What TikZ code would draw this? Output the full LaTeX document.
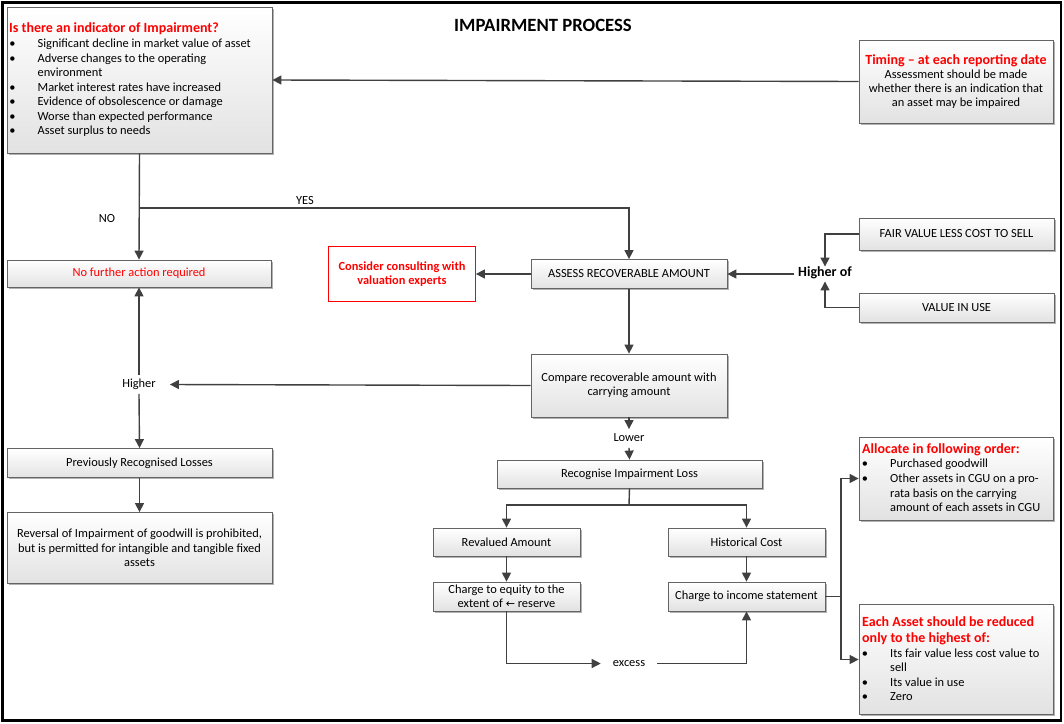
\documentclass[tikz,border=0pt]{standalone}
\usepackage{fontspec}
\setmainfont{Carlito}
\newfontfamily\djv{DejaVu Sans}
\usetikzlibrary{arrows.meta,shadows}
\definecolor{lncol}{HTML}{404040}
\definecolor{bdcol}{HTML}{646464}
\definecolor{bgcol}{HTML}{E2E2E2}
\definecolor{rdcol}{HTML}{FF0000}
\newcommand\fs{\fontsize{12.4}{14.5}\selectfont}
\newcommand\fb{\fontsize{14}{16}\selectfont\bfseries}
\begin{document}
\begin{tikzpicture}[x=1pt,y=-1pt,
  box/.style={draw=bdcol, line width=0.8pt, top color=white, bottom color=bgcol,
    drop shadow={shadow xshift=1.6pt, shadow yshift=-1.6pt, fill=black, opacity=0.3},
    inner sep=2pt, align=center, font=\fs},
  arr/.style={draw=lncol, line width=1.4pt, -{Triangle[length=9pt,width=9pt]}},
  cline/.style={draw=lncol, line width=1.4pt},
  lbl/.style={font=\fs, inner ysep=3pt, inner xsep=2pt, text height=8pt, text depth=2.5pt},
  txt/.style={font=\fs, inner sep=0pt, anchor=mid west, yshift=-1.5pt},
  rtitle/.style={font=\fb, text=rdcol, inner sep=0pt, anchor=mid west, yshift=-1.5pt},
  bul/.style={font=\fs, inner sep=0pt, anchor=mid, yshift=-1.5pt}
]
\useasboundingbox (0,0) rectangle (1064,723);
\draw[line width=2.5pt] (2.5,2.5) rectangle (1061,720.5);

% title
\node[font=\fontsize{18.7}{22}\selectfont\bfseries] (title) at (543,25.5) {IMPAIRMENT PROCESS};

% indicator box
\node[box, minimum width=265pt, minimum height=146pt] (ind) at (139.5,80) {};
\node[rtitle] (indt) at (9,29) {Is there an indicator of Impairment?};
\foreach \y/\t [count=\i] in {44/Significant decline in market value of asset,
    58.5/Adverse changes to the operating,
    87.5/Market interest rates have increased,
    102/Evidence of obsolescence or damage,
    116.5/Worse than expected performance,
    131/Asset surplus to needs}{
  \node[bul] (ib\i) at (12.5,\y) {•};
  \node[txt] (it\i) at (37.5,\y) {\t};
}
\node[txt] (itenv) at (37.5,73) {environment};

% timing box
\node[box, minimum width=194pt, minimum height=83pt, font=\fontsize{12.4}{14}\selectfont] (tim) at (956,81.5)
  {{\fb\color{rdcol}Timing – at each reporting date}\\Assessment should be made\\whether there is an indication that\\an asset may be impaired};

% left column
\node[box, minimum width=264pt, minimum height=27pt, text=rdcol] (nfa) at (139,273.5) {No further action required};
\node[lbl, inner xsep=14pt, inner ysep=4pt] (hi) at (139,384.5) {Higher};
\node[box, minimum width=265pt, minimum height=29pt] (prl) at (139.5,463) {Previously Recognised Losses};
\node[box, minimum width=265pt, minimum height=71pt] (rev) at (139.5,548)
  {Reversal of Impairment of goodwill is prohibited,\\but is permitted for intangible and tangible fixed\\assets};

% labels YES / NO
\node[lbl] (yes) at (305,201.5) {YES};
\node[lbl] (no) at (107,220) {NO};

% middle
\node[draw=rdcol, fill=white, line width=0.8pt, minimum width=147pt, minimum height=55pt,
  font=\fontsize{12.4}{14.7}\selectfont\bfseries, text=rdcol, align=center] (con) at (402,274)
  {Consider consulting with\\valuation experts};
\node[box, minimum width=196pt, minimum height=29pt] (ara) at (629,274) {ASSESS RECOVERABLE AMOUNT};
\node[box, minimum width=196pt, minimum height=63pt] (cmp) at (629,385.5) {Compare recoverable amount with\\carrying amount};
\node[lbl, inner ysep=4pt] (low) at (629,438.5) {Lower};
\node[box, minimum width=265pt, minimum height=28pt] (ril) at (629.5,474) {Recognise Impairment Loss};
\node[box, minimum width=147pt, minimum height=28pt] (ram) at (506.5,542) {Revalued Amount};
\node[box, minimum width=157pt, minimum height=28pt] (hc) at (746.5,542) {Historical Cost};
\node[box, minimum width=147pt, minimum height=29pt, font=\fontsize{12.4}{14}\selectfont] (ceq) at (506.5,596.5)
  {Charge to equity to the\\extent of {\djv\fontsize{11}{14}\selectfont ←} reserve};
\node[box, minimum width=157pt, minimum height=29pt] (cis) at (746.5,596.5) {Charge to income statement};
\node[lbl, inner xsep=12pt] (exc) at (629,663.5) {excess};

% right column
\node[lbl, font=\fb, inner xsep=4pt, inner ysep=2pt] (hof) at (825,274) {Higher of};
\node[box, minimum width=195pt, minimum height=32pt] (fv) at (956.5,234) {FAIR VALUE LESS COST TO SELL};
\node[box, minimum width=195pt, minimum height=29pt] (viu) at (956.5,307.5) {VALUE IN USE};

\node[box, minimum width=194pt, minimum height=83pt] (alo) at (956,478.5) {};
\node[rtitle] (alot) at (862,449.5) {Allocate in following order:};
\node[bul] (ab1) at (865,464) {•};
\node[txt] (at1) at (890,464) {Purchased goodwill};
\node[bul] (ab2) at (865,479) {•};
\node[txt] (at2) at (890,479) {Other assets in CGU on a pro-};
\node[txt] (at3) at (890,493.5) {rata basis on the carrying};
\node[txt] (at4) at (890,508) {amount of each assets in CGU};

\node[box, minimum width=194pt, minimum height=110pt] (eac) at (956,659.5) {};
\node[rtitle] (eact1) at (862,622.5) {Each Asset should be reduced};
\node[rtitle] (eact2) at (862,638.5) {only to the highest of:};
\node[bul] (eb1) at (865,653.5) {•};
\node[txt] (et1) at (890,653.5) {Its fair value less cost value to};
\node[txt] (et2) at (890,668) {sell};
\node[bul] (eb3) at (865,682.5) {•};
\node[txt] (et3) at (890,682.5) {Its value in use};
\node[bul] (eb4) at (865,697) {•};
\node[txt] (et4) at (890,697) {Zero};

% connectors
\draw[arr] (tim.west) -- (ind.east);
\coordinate (yb) at (139,208);
\draw[arr] (ind.south) -- (nfa.north);
\draw[arr] (yb) -| (ara.north);
\draw[arr] (ara.west) -- (con.east);
\draw[arr] (hof.west) -- (ara.east);
\draw[arr] (fv.west) -| (hof.north);
\draw[arr] (viu.west) -| (hof.south);
\draw[arr] (ara.south) -- (cmp.north);
\draw[arr] (cmp.west) -- (hi.east);
\draw[arr] (hi.north) -- (nfa.south);
\draw[arr] (hi.south) -- (prl.north);
\draw[arr] (prl.south) -- (rev.north);
\draw[arr] (cmp.south) -- (low.north);
\draw[arr] (low.south) -- (ril.north);
\coordinate (sp) at (629,505);
\draw[cline] (ril.south) -- (sp);
\draw[arr] (sp) -| (ram.north);
\draw[arr] (sp) -| (hc.north);
\draw[arr] (ram.south) -- (ceq.north);
\draw[arr] (hc.south) -- (cis.north);
\draw[arr] (ceq.south) |- (exc.west);
\draw[arr] (exc.east) -| (cis.south);
\coordinate (rj) at (841,596.5);
\draw[cline] (cis.east) -- (rj);
\draw[arr] (rj) |- (alo.west);
\draw[arr] (rj) |- (eac.west);
\end{tikzpicture}
\end{document}
